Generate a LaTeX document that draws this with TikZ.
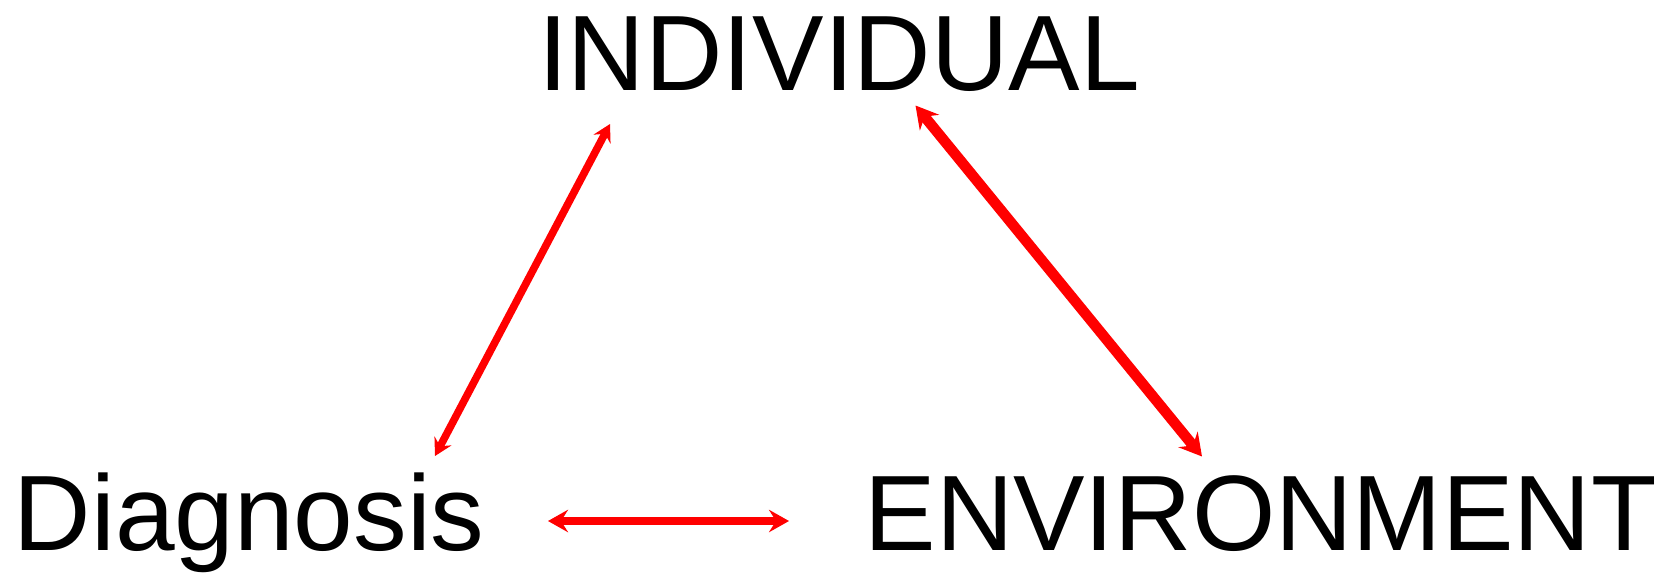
\documentclass[tikz,border=0pt]{standalone}
\usepackage{fontspec}
\setmainfont{Liberation Sans}
\usetikzlibrary{arrows.meta,calc}
\begin{document}
\begin{tikzpicture}[
        label/.style={inner sep=0pt, font=\fontsize{61}{64}\selectfont},
        link/.style={draw=red, {Stealth[length=#1, width=#1*1.12, inset=#1*0.35]}-{Stealth[length=#1, width=#1*1.12, inset=#1*0.35]}}
    ]
            \useasboundingbox (0, 0) rectangle (33.42, -11.48);
            \node[label, anchor=base] (ind) at (16.78, -1.80) {INDIVIDUAL};
            \node[label, anchor=base west] (diag) at (0.27, -11.01) {Diagnosis};
            \node[label, anchor=base east] (env) at (33.14, -11.01) {ENVIRONMENT};
            \draw[link=0.34cm, line width=4.3pt] ($(ind.base)+(-4.58, -0.68)$) -- ($(diag.base west)+(8.43, 1.89)$);
            \draw[link=0.44cm, line width=6pt] ($(ind.base)+(1.53, -0.31)$) -- ($(env.base east)+(-9.10, 1.88)$);
            \draw[link=0.4cm, line width=5pt] ($(diag.base west)+(10.69, 0.59)$) -- ($(env.base east)+(-17.36, 0.59)$);
        \end{tikzpicture}
\end{document}
